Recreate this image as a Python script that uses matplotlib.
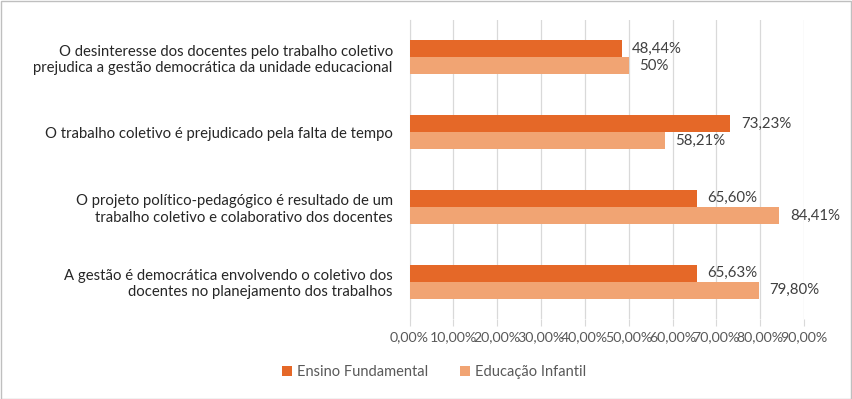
import matplotlib
matplotlib.use("Agg")
import matplotlib.pyplot as plt
import numpy as np
from matplotlib.patches import Rectangle

categories = [
    "O desinteresse dos docentes pelo trabalho coletivo\nprejudica a gestão democrática da unidade educacional",
    "O trabalho coletivo é prejudicado pela falta de tempo",
    "O projeto político-pedagógico é resultado de um\ntrabalho coletivo e colaborativo dos docentes",
    "A gestão é democrática envolvendo o coletivo dos\ndocentes no planejamento dos trabalhos",
]
ensino_fundamental = [0.4844, 0.7323, 0.6560, 0.6563]
educacao_infantil = [0.50, 0.5821, 0.8441, 0.7980]
labels_ef = ["48,44%", "73,23%", "65,60%", "65,63%"]
labels_ei = ["50%", "58,21%", "84,41%", "79,80%"]
xticks = [0.0, 0.1, 0.2, 0.3, 0.4, 0.5, 0.6, 0.7, 0.8, 0.9]
xtick_labels = ["0,00%", "10,00%", "20,00%", "30,00%", "40,00%", "50,00%",
                "60,00%", "70,00%", "80,00%", "90,00%"]
series_names = ["Ensino Fundamental", "Educação Infantil"]

c_dark = "#E56828"
c_light = "#F1A473"
txt = "#595959"
font = "Lato"

fig = plt.figure(figsize=(8.52, 3.99), dpi=100)
ax = fig.add_axes([409.5/852, 1-319/399, (804-409.5)/852, (319-20)/399])

y = np.arange(len(categories))
h = 0.228
b1 = ax.barh(y - h/2, ensino_fundamental, height=h, color=c_dark, label=series_names[0], zorder=3)
b2 = ax.barh(y + h/2, educacao_infantil, height=h, color=c_light, label=series_names[1], zorder=3)

for yi, v, s in zip(y - h/2, ensino_fundamental, labels_ef):
    ax.annotate(s, (v, yi), xytext=(7.5, 0), textcoords="offset points", va="center",
                ha="left", color="#404040", fontsize=10.8, family=font)
for yi, v, s in zip(y + h/2, educacao_infantil, labels_ei):
    ax.annotate(s, (v, yi), xytext=(7.5, 0), textcoords="offset points", va="center",
                ha="left", color="#404040", fontsize=10.8, family=font)

ax.set_ylim(len(categories) - 0.5, -0.5)
ax.set_xlim(0, 0.9)
ax.set_yticks(y)
ax.set_yticklabels(categories, fontsize=10.7, color="#262626", family=font)
ax.tick_params(axis="y", length=0, pad=12)
ax.set_xticks(xticks)
ax.set_xticklabels(xtick_labels, fontsize=10.2, color=txt, family=font)
ax.tick_params(axis="x", length=5, color="#D9D9D9", pad=4)
ax.grid(axis="x", color="#D9D9D9", linewidth=0.9, zorder=0)
for sp in ["top", "right", "bottom"]:
    ax.spines[sp].set_visible(False)
ax.spines["left"].set_color("#D9D9D9")

leg = fig.legend(handles=[b1, b2], labels=series_names, loc="center",
                 bbox_to_anchor=(434/852, 1-372/399), ncol=2, frameon=False,
                 prop={"family": font, "size": 10.5}, handlelength=0.7, handleheight=0.7,
                 columnspacing=2.2, handletextpad=0.3)
for t in leg.get_texts():
    t.set_color(txt)

fig.patches.append(Rectangle((0.5/852, 0.5/399), 1-1.5/852, 1-1.5/399, transform=fig.transFigure,
                             fill=False, edgecolor="#BFBFBF", linewidth=1))

fig.savefig("out.png", dpi=100)
